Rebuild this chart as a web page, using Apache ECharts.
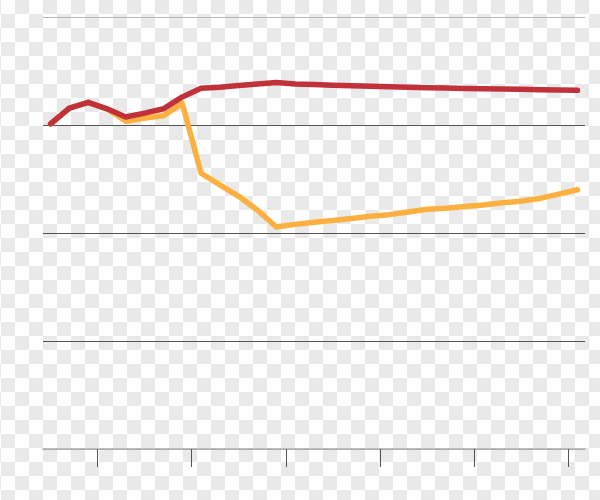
<!DOCTYPE html>
<html>
<head>
<meta charset="utf-8">
<script src="https://cdn.jsdelivr.net/npm/echarts@6/dist/echarts.min.js"></script>
<style>
  html, body { margin: 0; padding: 0; background: #ffffff; }
  #wrap {
    position: relative;
    width: 600px; height: 500px;
    background-color: #ffffff;
    background-image:
      linear-gradient(45deg, #e9e9e9 25%, rgba(255,255,255,0) 25%, rgba(255,255,255,0) 75%, #e9e9e9 75%),
      linear-gradient(45deg, #e9e9e9 25%, rgba(255,255,255,0) 25%, rgba(255,255,255,0) 75%, #e9e9e9 75%);
    background-size: 28px 28px;
    background-position: 1px 0px, 15px 14px;
  }
  #chart { width: 600px; height: 500px; }
</style>
</head>
<body>
<div id="wrap"><div id="chart"></div></div>
<script>
// x positions (period index) for each data point
const periods = [0, 1, 2, 3, 4, 5, 6, 7, 8, 9, 10, 11, 12, 13, 14, 15, 16, 17, 18, 19, 20, 21, 22, 23, 24, 25, 26, 27, 28];
// red series
const redValues = [1, 15.7, 21, 15, 7.4, 11, 15, 26, 34, 35, 36.5, 38, 39.4,
  38, 37.4, 36.9, 36.4, 35.9, 35.4, 35, 34.6, 34.2, 33.9, 33.6, 33.3, 33, 32.7, 32.4, 32.1];
// yellow series
const yellowValues = [1, 15.7, 21, 15, 3.5, 6.5, 8.5, 20, -44.7, -55.5, -66, -79, -94.5,
  -92, -90, -88.5, -86.5, -84.5, -83, -80.5, -78, -77, -75.5, -74, -72, -70.5, -68, -64, -60];
// tick positions on the x axis (unlabelled)
const xTicks = [2.5, 7.5, 12.5, 17.5, 22.5, 27.5];

const chart = echarts.init(document.getElementById('chart'), null, { renderer: 'canvas' });
chart.setOption({
  backgroundColor: 'transparent',
  animation: false,
  grid: { left: 43, right: 15, top: 17, bottom: 51 },
  xAxis: {
    type: 'value',
    min: -0.4,
    max: 28.4,
    axisLine: { show: true, onZero: false, lineStyle: { color: '#acacac', width: 1.5 } },
    axisTick: { show: true, customValues: xTicks, length: 18, inside: false,
      lineStyle: { color: '#555', width: 1 } },
    axisLabel: { show: false },
    splitLine: { show: false }
  },
  yAxis: {
    type: 'value',
    min: -300,
    max: 100,
    interval: 100,
    axisLine: { show: false },
    axisTick: { show: false },
    axisLabel: { show: false },
    splitLine: { show: true, lineStyle: { color: ['#acacac', '#555', '#555', '#555', '#b8b8b8'], width: 1 } }
  },
  series: [
    {
      type: 'line',
      data: periods.map((p, i) => [p, yellowValues[i]]),
      showSymbol: false,
      symbol: 'none',
      lineStyle: { color: '#fcb040', width: 5.5, cap: 'round', join: 'round' },
      z: 2
    },
    {
      type: 'line',
      data: periods.map((p, i) => [p, redValues[i]]),
      showSymbol: false,
      symbol: 'none',
      lineStyle: { color: '#c0313a', width: 5.5, cap: 'round', join: 'round' },
      z: 3
    }
  ]
});
</script>
</body>
</html>
